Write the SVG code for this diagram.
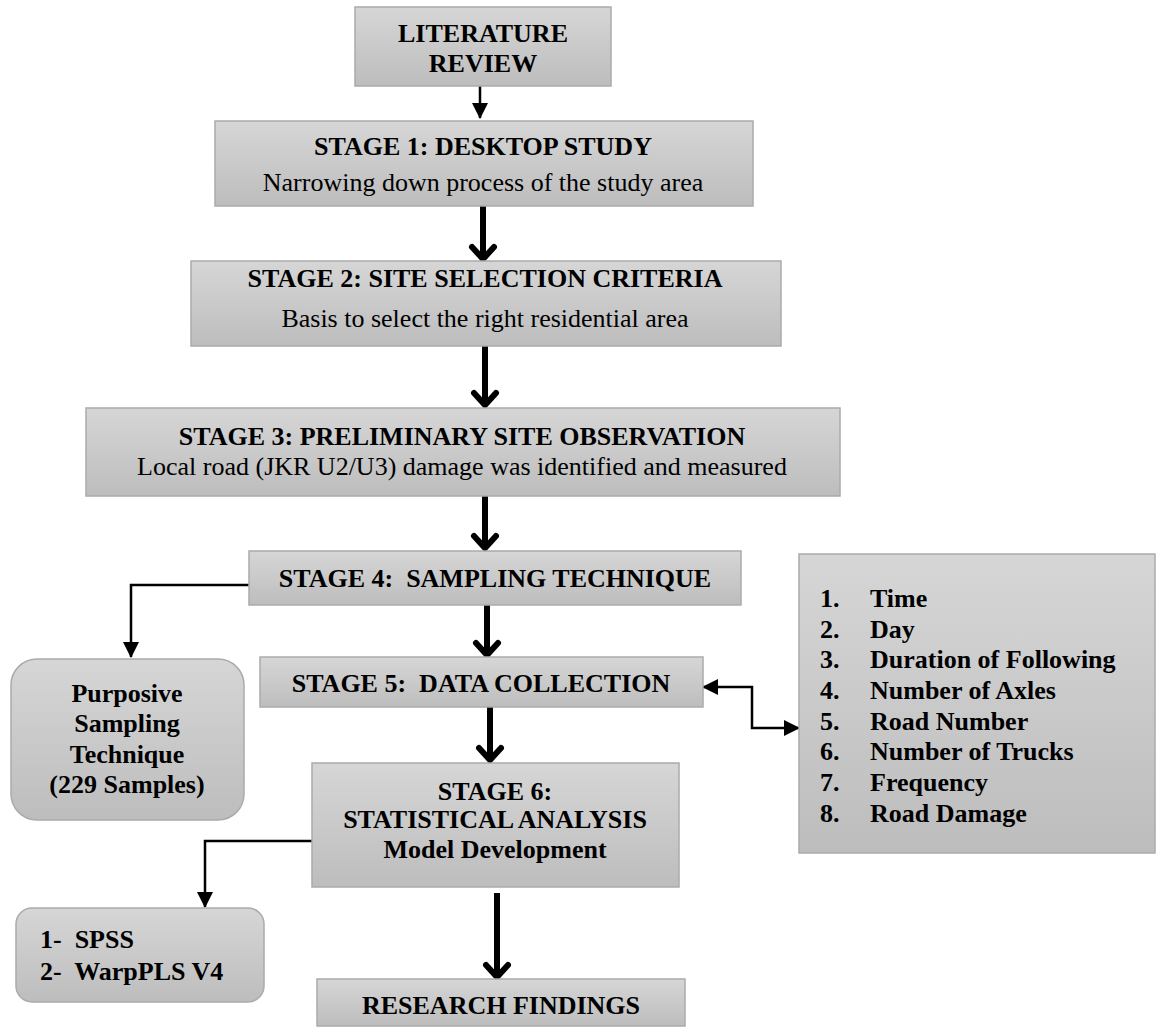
<svg xmlns="http://www.w3.org/2000/svg" width="1156" height="1028" viewBox="0 0 1156 1028">
<defs>
<linearGradient id="g" x1="0" y1="0" x2="0" y2="1">
<stop offset="0" stop-color="#d6d6d6"/>
<stop offset="1" stop-color="#bdbdbd"/>
</linearGradient>
<marker id="tri" viewBox="0 0 16 16" refX="15" refY="8" markerWidth="16" markerHeight="16" markerUnits="userSpaceOnUse" orient="auto-start-reverse">
<path d="M0,0 L16,8 L0,16 Z" fill="#000"/>
</marker>
</defs>
<style>
.box{fill:url(#g);stroke:#ababab;stroke-width:1.5}
.t{font-family:"Liberation Serif","Times New Roman",serif;font-size:26px;fill:#000}
.b{font-weight:bold}
.c{text-anchor:middle}
.thin{fill:none;stroke:#000;stroke-width:2.5}
.thick{fill:none;stroke:#000;stroke-width:6}
.head{fill:none;stroke:#000;stroke-width:6;stroke-linejoin:miter;stroke-linecap:round}
</style>

<g id="connectors">
<line class="thin" x1="480" y1="86" x2="480" y2="118" marker-end="url(#tri)"/>
<line class="thick" x1="483" y1="206" x2="483" y2="258"/>
<polyline class="head" points="472,247 483,259 494,247"/>
<line class="thick" x1="485" y1="346" x2="485" y2="404"/>
<polyline class="head" points="474,393 485,405 496,393"/>
<line class="thick" x1="485" y1="496" x2="485" y2="547"/>
<polyline class="head" points="474,536 485,548 496,536"/>
<line class="thick" x1="487" y1="605" x2="487" y2="654"/>
<polyline class="head" points="476,643 487,655 498,643"/>
<line class="thick" x1="490" y1="707" x2="490" y2="759"/>
<polyline class="head" points="479,748 490,760 501,748"/>
<line class="thick" x1="497" y1="893" x2="497" y2="976"/>
<polyline class="head" points="486,965 497,977 508,965"/>
<polyline class="thin" points="250,585 131,585 131,657" marker-end="url(#tri)"/>
<polyline class="thin" points="312,841 205,841 205,907" marker-end="url(#tri)"/>
<polyline class="thin" points="703,687 752,687 752,728 799,728" marker-start="url(#tri)" marker-end="url(#tri)"/>
</g>

<g id="literature-review">
<rect class="box" x="355" y="7" width="256" height="79"/>
<text class="t b c" x="483" y="42">LITERATURE</text>
<text class="t b c" x="483" y="72">REVIEW</text>
</g>

<g id="stage1">
<rect class="box" x="215" y="121" width="538" height="85"/>
<text class="t b c" x="483" y="155">STAGE 1: DESKTOP STUDY</text>
<text class="t c" x="483" y="191">Narrowing down process of the study area</text>
</g>

<g id="stage2">
<rect class="box" x="191" y="261" width="590" height="85"/>
<text class="t b c" x="485" y="287">STAGE 2: SITE SELECTION CRITERIA</text>
<text class="t c" x="485" y="327">Basis to select the right residential area</text>
</g>

<g id="stage3">
<rect class="box" x="86" y="408" width="754" height="88"/>
<text class="t b c" x="462" y="445">STAGE 3: PRELIMINARY SITE OBSERVATION</text>
<text class="t c" x="462" y="475">Local road (JKR U2/U3) damage was identified and measured</text>
</g>

<g id="stage4">
<rect class="box" x="249" y="551" width="492" height="54"/>
<text class="t b c" x="495" y="587" xml:space="preserve">STAGE 4:  SAMPLING TECHNIQUE</text>
</g>

<g id="purposive">
<rect class="box" x="11" y="659" width="233" height="161" rx="26" ry="26"/>
<text class="t b c" x="127" y="702">Purposive</text>
<text class="t b c" x="127" y="732">Sampling</text>
<text class="t b c" x="127" y="763">Technique</text>
<text class="t b c" x="127" y="793">(229 Samples)</text>
</g>

<g id="stage5">
<rect class="box" x="260" y="657" width="443" height="50"/>
<text class="t b c" x="481" y="692" xml:space="preserve">STAGE 5:  DATA COLLECTION</text>
</g>

<g id="variables">
<rect class="box" x="799" y="554" width="356" height="299"/>
<text class="t b" x="820" y="607">1.</text><text class="t b" x="870" y="607">Time</text>
<text class="t b" x="820" y="638">2.</text><text class="t b" x="870" y="638">Day</text>
<text class="t b" x="820" y="668">3.</text><text class="t b" x="870" y="668">Duration of Following</text>
<text class="t b" x="820" y="699">4.</text><text class="t b" x="870" y="699">Number of Axles</text>
<text class="t b" x="820" y="730">5.</text><text class="t b" x="870" y="730">Road Number</text>
<text class="t b" x="820" y="760">6.</text><text class="t b" x="870" y="760">Number of Trucks</text>
<text class="t b" x="820" y="791">7.</text><text class="t b" x="870" y="791">Frequency</text>
<text class="t b" x="820" y="822">8.</text><text class="t b" x="870" y="822">Road Damage</text>
</g>

<g id="stage6">
<rect class="box" x="312" y="763" width="367" height="124"/>
<text class="t b c" x="495" y="800">STAGE 6:</text>
<text class="t b c" x="495" y="828">STATISTICAL ANALYSIS</text>
<text class="t b c" x="495" y="858">Model Development</text>
</g>

<g id="software">
<rect class="box" x="16" y="908" width="248" height="94" rx="16" ry="16"/>
<text class="t b" x="40" y="948" xml:space="preserve">1-  SPSS</text>
<text class="t b" x="40" y="980" xml:space="preserve">2-  WarpPLS V4</text>
</g>

<g id="research-findings">
<rect class="box" x="317" y="979" width="368" height="47"/>
<text class="t b c" x="501" y="1014">RESEARCH FINDINGS</text>
</g>
</svg>
